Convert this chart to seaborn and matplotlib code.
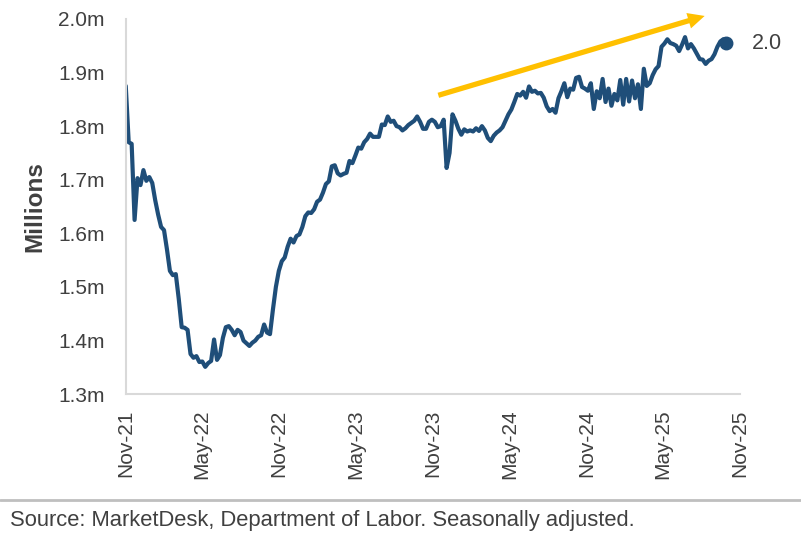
import pandas as pd
import numpy as np
import matplotlib
matplotlib.use("Agg")
import matplotlib.pyplot as plt
import matplotlib.dates as mdates
from matplotlib.lines import Line2D
import seaborn as sns

# weekly continuing claims (millions), first week Nov-2021
start_date = "2021-11-01"
claims = [
    1.875, 1.770, 1.767, 1.625, 1.703, 1.690, 1.718, 1.698, 1.705, 1.694,
    1.662, 1.635, 1.612, 1.606, 1.570, 1.530, 1.522, 1.524, 1.478, 1.425,
    1.424, 1.420, 1.375, 1.368, 1.371, 1.360, 1.361, 1.351, 1.358, 1.362,
    1.402, 1.364, 1.373, 1.405, 1.425, 1.427, 1.420, 1.410, 1.420, 1.416,
    1.400, 1.395, 1.390, 1.396, 1.400, 1.407, 1.410, 1.430, 1.415, 1.412,
    1.458, 1.500, 1.530, 1.548, 1.555, 1.575, 1.590, 1.583, 1.595, 1.598,
    1.612, 1.632, 1.639, 1.638, 1.645, 1.659, 1.663, 1.676, 1.692, 1.697,
    1.725, 1.727, 1.712, 1.708, 1.711, 1.713, 1.735, 1.731, 1.745, 1.760,
    1.758, 1.770, 1.776, 1.786, 1.780, 1.780, 1.780, 1.803, 1.802, 1.818,
    1.808, 1.810, 1.800, 1.798, 1.792, 1.796, 1.802, 1.806, 1.810, 1.818,
    1.808, 1.795, 1.795, 1.808, 1.812, 1.808, 1.798, 1.800, 1.812, 1.722,
    1.750, 1.822, 1.810, 1.795, 1.784, 1.794, 1.790, 1.792, 1.790, 1.796,
    1.791, 1.800, 1.792, 1.778, 1.772, 1.782, 1.788, 1.792, 1.798, 1.810,
    1.822, 1.831, 1.845, 1.860, 1.857, 1.864, 1.853, 1.874, 1.864, 1.866,
    1.861, 1.862, 1.853, 1.837, 1.828, 1.832, 1.825, 1.852, 1.865, 1.880,
    1.854, 1.870, 1.868, 1.890, 1.892, 1.873, 1.870, 1.866, 1.880, 1.832,
    1.865, 1.852, 1.888, 1.845, 1.870, 1.838, 1.860, 1.848, 1.886, 1.840,
    1.888, 1.846, 1.885, 1.852, 1.878, 1.832, 1.907, 1.875, 1.880, 1.895,
    1.906, 1.912, 1.948, 1.954, 1.962, 1.955, 1.953, 1.950, 1.940, 1.952,
    1.966, 1.945, 1.953, 1.945, 1.935, 1.925, 1.924, 1.916, 1.922, 1.925,
    1.934, 1.948, 1.958, 1.962, 1.955,
]
yticks = [1.3, 1.4, 1.5, 1.6, 1.7, 1.8, 1.9, 2.0]
ytick_labels = ["1.3m", "1.4m", "1.5m", "1.6m", "1.7m", "1.8m", "1.9m", "2.0m"]
end_label = "2.0"
# trend arrow endpoints (date, value)
arrow_start = ("2023-11-08", 1.856)
arrow_end = ("2025-08-15", 2.007)
source = "Source: MarketDesk, Department of Labor. Seasonally adjusted."

df = pd.DataFrame({
    "week": pd.date_range(start_date, periods=len(claims), freq="7D"),
    "claims": claims,
})

sns.set_style("white")
plt.rcParams["font.family"] = ["Liberation Sans", "DejaVu Sans"]

navy = "#1F4E79"
grey_txt = "#404040"
grey_ax = "#D9D9D9"

fig = plt.figure(figsize=(8.01, 5.40), dpi=100)
ax = fig.add_axes([0.157, 0.270, 0.767, 0.695])

sns.lineplot(data=df, x="week", y="claims", ax=ax, color=navy, linewidth=3.0)
ax.plot(df["week"].iloc[-1], df["claims"].iloc[-1], "o", color=navy, markersize=9)
ax.text(df["week"].iloc[-1] + pd.Timedelta(days=62), df["claims"].iloc[-1], end_label,
        fontsize=15.5, color=grey_txt, va="center", ha="left")

ax.annotate("", xy=(pd.Timestamp(arrow_end[0]), arrow_end[1]),
            xytext=(pd.Timestamp(arrow_start[0]), arrow_start[1]),
            annotation_clip=False,
            arrowprops=dict(arrowstyle="simple,head_width=1.15,head_length=1.2,tail_width=0.38",
                            mutation_scale=10, color="#FFC000", lw=0))

ax.set_xlim(pd.Timestamp("2021-11-01"), pd.Timestamp("2025-11-01"))
ax.set_ylim(1.3, 2.0)
ax.set_yticks(yticks)
ax.set_yticklabels(ytick_labels)
ax.xaxis.set_major_locator(mdates.MonthLocator(bymonth=[5, 11]))
ax.xaxis.set_major_formatter(mdates.DateFormatter("%b-%y"))
ax.tick_params(axis="x", labelrotation=90, pad=6)
ax.tick_params(axis="y", pad=10)
ax.tick_params(length=5, width=1.5, color=grey_ax, labelsize=15, labelcolor=grey_txt)

ax.set_xlabel("")
ax.set_ylabel("Millions", fontsize=17.5, fontweight="bold", color=grey_txt, labelpad=9)

for side in ["top", "right"]:
    ax.spines[side].set_visible(False)
for side in ["left", "bottom"]:
    ax.spines[side].set_color(grey_ax)
    ax.spines[side].set_linewidth(1.5)

fig.add_artist(Line2D([0, 1], [0.074, 0.074], transform=fig.transFigure,
                      color="#BFBFBF", linewidth=2))
fig.text(0.012, 0.037, source, fontsize=15.8, color=grey_txt, va="center", ha="left")

fig.savefig("out.png", dpi=100)
